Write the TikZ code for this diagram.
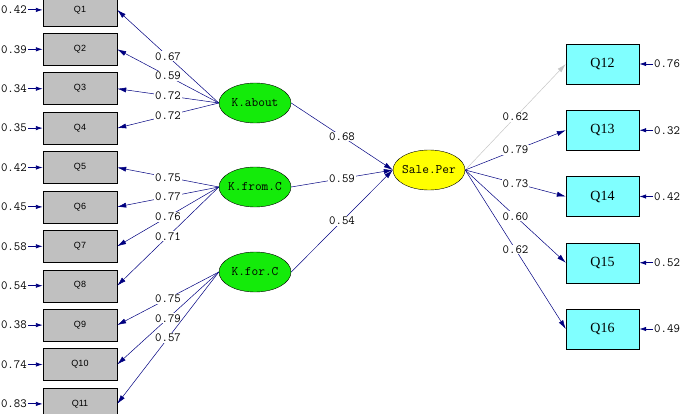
\documentclass[tikz,border=0pt]{standalone}
\usepackage{fontspec}
\newfontfamily\sansfont{Liberation Sans}
\newfontfamily\seriffont{Liberation Serif}
\usetikzlibrary{arrows.meta,shapes.geometric}
\definecolor{pathblue}{RGB}{0,0,128}
\definecolor{obsgray}{RGB}{192,192,192}
\definecolor{obscyan}{RGB}{128,255,255}
\definecolor{latgreen}{RGB}{20,235,10}
\definecolor{latyellow}{RGB}{255,255,0}

\begin{document}
\begin{tikzpicture}[x=1pt, y=-1pt,
        obsleft/.style = {rectangle, draw, fill=obsgray,
            minimum width=74pt, minimum height=32pt,
            font=\sansfont\fontsize{9}{9}\selectfont},
        obsright/.style = {rectangle, draw, fill=obscyan,
            minimum width=73pt, minimum height=40pt,
            font=\seriffont\fontsize{14}{14}\selectfont},
        latent/.style = {ellipse, draw, inner xsep=-10pt, inner ysep=0pt,
            minimum width=72pt, minimum height=40pt,
            font=\ttfamily\fontsize{13}{13}\selectfont},
        errval/.style = {inner sep=1pt, font=\ttfamily\fontsize{12.5}{12.5}\selectfont},
        coef/.style = {fill=white, inner sep=1pt,
            font=\ttfamily\fontsize{12.5}{12.5}\selectfont},
        load/.style = {draw=pathblue, line width=0.5pt,
            -{Latex[length=9pt,width=5pt]}},
        errarrow/.style = {draw=pathblue, line width=0.9pt,
            -{Latex[length=7pt,width=4.5pt]}}]
    \useasboundingbox (0,0) rectangle (692,414);

    % latent variables
    \node[latent, fill=latgreen] (kabout) at (255,103) {K.about};
    \node[latent, fill=latgreen] (kfromc) at (255,187) {K.from.C};
    \node[latent, fill=latgreen] (kforc) at (255,272) {K.for.C};
    \node[latent, fill=latyellow] (saleper) at (429,170) {Sale.Per};

    % indicators on the left with their error variances
    \foreach \i/\e in {1/0.42,2/0.39,3/0.34,4/0.35,5/0.42,6/0.45,
                       7/0.58,8/0.54,9/0.38,10/0.74,11/0.83} {
        \pgfmathsetmacro\y{9.9+39.4*(\i-1)}
        \node[obsleft] (q\i) at (80,\y) {Q\i};
        \node[errval, anchor=east] (e\i) at (28,\y) {\e};
        \draw[errarrow] (e\i.east) -- (q\i.west);
    }

    % indicators on the right
    \foreach \i/\e in {12/0.76,13/0.32,14/0.42,15/0.52,16/0.49} {
        \pgfmathsetmacro\y{64+66.25*(\i-12)}
        \node[obsright] (q\i) at (602.5,\y) {Q\i};
        \node[errval, anchor=west] (e\i) at (653,\y) {\e};
        \draw[errarrow] (e\i.west) -- (q\i.east);
    }

    % loadings
    \foreach \i/\v in {1/0.67,2/0.59,3/0.72,4/0.72}
        \draw[load] (kabout.west) -- node[coef] {\v} (q\i.east);
    \foreach \i/\v in {5/0.75,6/0.77,7/0.76,8/0.71}
        \draw[load] (kfromc.west) -- node[coef] {\v} (q\i.east);
    \foreach \i/\v in {9/0.75,10/0.79,11/0.57}
        \draw[load] (kforc.west) -- node[coef] {\v} (q\i.east);

    \draw[load, draw=gray!45] (saleper.east) -- node[coef] {0.62} (q12.west);
    \foreach \i/\v in {13/0.79,14/0.73,15/0.60,16/0.62}
        \draw[load] (saleper.east) -- node[coef] {\v} (q\i.west);

    % structural paths
    \draw[load] (kabout.east) -- node[coef] {0.68} (saleper.west);
    \draw[load] (kfromc.east) -- node[coef] {0.59} (saleper.west);
    \draw[load] (kforc.east) -- node[coef] {0.54} (saleper.west);
\end{tikzpicture}
\end{document}
